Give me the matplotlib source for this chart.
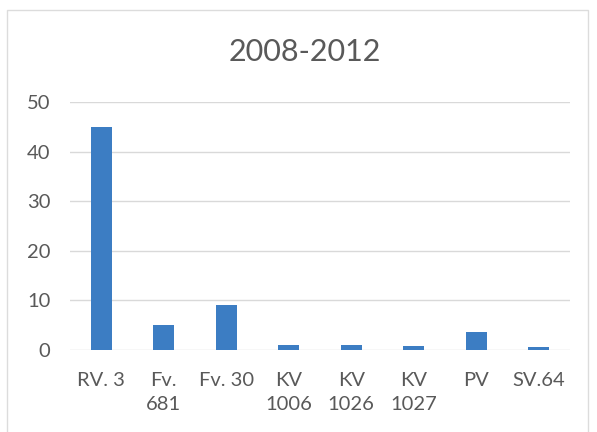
import matplotlib
matplotlib.use("Agg")
import matplotlib.pyplot as plt
from matplotlib.patches import Rectangle

categories = ["RV. 3", "Fv.\n681", "Fv. 30", "KV\n1006", "KV\n1026", "KV\n1027", "PV", "SV.64"]
values = [45, 5, 9, 1, 1, 0.8, 3.7, 0.6]
yticks = [0, 10, 20, 30, 40, 50]
title = "2008-2012"

plt.rcParams['font.family'] = ['Lato', 'DejaVu Sans']

fig = plt.figure(figsize=(5.97, 4.32), dpi=100)
fig.patch.set_facecolor("white")
# chart frame
fig.patches.append(Rectangle((7/597, -0.1), (588-7)/597, (432-10)/432 + 0.1,
                             transform=fig.transFigure, fill=False,
                             edgecolor="#dcdcdc", linewidth=1.0))

ax = fig.add_axes([70/597, 1 - 350/432, (570-70)/597, (350-102)/432])
x = list(range(len(categories)))
ax.bar(x, values, width=0.33, color="#3C7DC3", zorder=3)
ax.set_xlim(-0.5, len(categories) - 0.5)
ax.set_ylim(0, 50)
ax.set_yticks(yticks)
ax.set_xticks(x)
ax.set_xticklabels(categories, linespacing=1.45)
ax.yaxis.grid(True, color="#d9d9d9", linewidth=1.0, zorder=0)
for s in ax.spines.values():
    s.set_visible(False)
ax.tick_params(axis="both", length=0, labelsize=14.5, colors="#595959")
ax.tick_params(axis="x", pad=16)
ax.tick_params(axis="y", pad=14)
for lbl in ax.get_xticklabels():
    lbl.set_verticalalignment("top")

fig.text(305/597, 1 - 52/432, title, ha="center", va="center", fontsize=22, color="#595959")

fig.savefig("out.png", dpi=100)
